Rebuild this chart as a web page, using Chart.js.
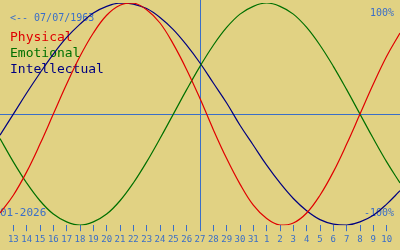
<!DOCTYPE html>
<html>
<head>
<meta charset="utf-8">
<script src="https://cdn.jsdelivr.net/npm/chart.js@4"></script>
<style>
  html, body { margin: 0; padding: 0; background: #e1d283; }
  canvas { display: block; }
</style>
</head>
<body>
<canvas id="bioChart" width="400" height="250"></canvas>
<script>
// days shown: 12 Jan .. 11 Feb 2026
var days = ['12', '13', '14', '15', '16', '17', '18', '19', '20', '21', '22', '23', '24', '25', '26', '27',
            '28', '29', '30', '31', '1', '2', '3', '4', '5', '6', '7', '8', '9', '10', '11'];
var physical = [-0.89, -0.73, -0.52, -0.27, 0.00, 0.27, 0.52, 0.73, 0.89, 0.98, 1.00, 0.94, 0.82, 0.63, 0.40, 0.14,
                -0.14, -0.40, -0.63, -0.82, -0.94, -1.00, -0.98, -0.89, -0.73, -0.52, -0.27, 0.00, 0.27, 0.52, 0.73];
var emotional = [-0.22, -0.43, -0.62, -0.78, -0.90, -0.97, -1.00, -0.97, -0.90, -0.78, -0.62, -0.43, -0.22, 0.00, 0.22, 0.43,
                 0.62, 0.78, 0.90, 0.97, 1.00, 0.97, 0.90, 0.78, 0.62, 0.43, 0.22, 0.00, -0.22, -0.43, -0.62];
var intellectual = [-0.19, 0.00, 0.19, 0.37, 0.54, 0.69, 0.81, 0.91, 0.97, 1.00, 0.99, 0.95, 0.87, 0.76, 0.62, 0.46,
                    0.28, 0.10, -0.10, -0.28, -0.46, -0.62, -0.76, -0.87, -0.95, -0.99, -1.00, -0.97, -0.91, -0.81, -0.69];
var todayIndex = 15; // 27
var birthText = '<-- 07/07/1963';
var monthText = '01-2026';

var blue = '#3a6ec8';
var mono = '"DejaVu Sans Mono", "Liberation Mono", monospace';

// background, labels and the today / zero lines
var overlay = {
    id: 'overlay',
    beforeDraw: function(chart) {
        var c = chart.ctx;
        c.save();
        c.fillStyle = '#e1d283';
        c.fillRect(0, 0, chart.width, chart.height);
        c.restore();
    },
    beforeDatasetsDraw: function(chart) {
        var c = chart.ctx, xs = chart.scales.x, ys = chart.scales.y;
        var area = chart.chartArea;
        c.save();
        c.strokeStyle = blue;
        c.lineWidth = 1;
        var y0 = Math.round(ys.getPixelForValue(0)) + 0.5;
        c.beginPath(); c.moveTo(0, y0); c.lineTo(chart.width, y0); c.stroke();
        var xt = Math.round(xs.getPixelForValue(todayIndex)) + 0.5;
        c.beginPath(); c.moveTo(xt, 0); c.lineTo(xt, area.bottom + 5); c.stroke();

        c.fillStyle = blue;
        c.textBaseline = 'alphabetic';
        c.font = '10px ' + mono;
        c.textAlign = 'left';
        c.fillText(birthText, 10, 21);
        c.textAlign = 'right';
        c.fillText('100%', 394, 16);
        c.fillText('-100%', 394, 216);
        c.textAlign = 'left';
        c.font = '11px ' + mono;
        c.fillText(monthText, 0, 216);

        c.font = '13px ' + mono;
        var names = ['Physical', 'Emotional', 'Intellectual'];
        var cols = ['#e00000', '#007000', '#000080'];
        for (var i = 0; i < names.length; i++) {
            c.fillStyle = cols[i];
            c.fillText(names[i], 10, 41 + i * 16);
        }
        c.restore();
    }
};

function series(label, data, color) {
    return {
        label: label,
        data: data,
        borderColor: color,
        backgroundColor: color,
        borderWidth: 1.2,
        pointRadius: 0,
        fill: false,
        tension: 0.4
    };
}

var ctx = document.getElementById('bioChart').getContext('2d');
var chart = new Chart(ctx, {
    type: 'line',
    data: {
        labels: days,
        datasets: [
            series('Physical', physical, '#e00000'),
            series('Emotional', emotional, '#007000'),
            series('Intellectual', intellectual, '#000080')
        ]
    },
    options: {
        responsive: false,
        animation: false,
        layout: { padding: { top: 3, bottom: 2, left: 0, right: 0 } },
        plugins: { legend: { display: false }, tooltip: { enabled: false } },
        scales: {
            x: {
                offset: false,
                border: { display: false },
                grid: { drawOnChartArea: false, drawTicks: true, tickLength: 6, color: blue },
                ticks: { autoSkip: false, maxRotation: 0, padding: 3, color: blue, font: { family: mono, size: 9 } },
                afterBuildTicks: function(scale) {
                    scale.ticks = scale.ticks.filter(function(t) { return t.value > 0 && t.value < days.length - 1; });
                }
            },
            y: { display: false, min: -1, max: 1 }
        }
    },
    plugins: [overlay]
});
</script>
</body>
</html>
